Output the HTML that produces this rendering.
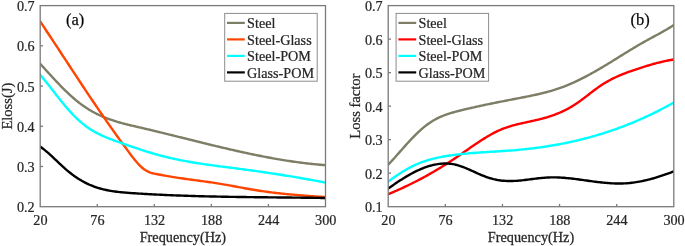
<!DOCTYPE html>
<html><head><meta charset="utf-8"><title>Chart</title>
<style>
html,body{margin:0;padding:0;background:#fff;}
body{width:685px;height:246px;overflow:hidden;}
svg{display:block;}
text{filter:grayscale(1);stroke:#262626;stroke-width:0.25px;}
.ax{stroke:#7a7a7a;stroke-width:1.3;}
.tk{font-family:"Liberation Serif",serif;font-size:15.5px;fill:#262626;}
.lb{font-family:"Liberation Serif",serif;font-size:14px;fill:#262626;}
.tg{font-family:"Liberation Serif",serif;font-size:16.5px;fill:#000;}
</style></head>
<body>
<svg width="685" height="246" viewBox="0 0 685 246">
<defs>
<clipPath id="cl"><rect x="40.20" y="5.60" width="285.30" height="201.10"/></clipPath>
<clipPath id="cr"><rect x="388.20" y="5.60" width="285.60" height="201.10"/></clipPath>
</defs>
<g clip-path="url(#cl)">
<path d="M40.00,63.52 L41.50,65.20 L43.01,66.87 L44.51,68.55 L46.01,70.21 L47.52,71.87 L49.02,73.53 L50.52,75.17 L52.03,76.80 L53.53,78.43 L55.03,80.03 L56.53,81.63 L58.04,83.20 L59.54,84.76 L61.04,86.30 L62.55,87.82 L64.05,89.32 L65.55,90.79 L67.06,92.23 L68.56,93.65 L70.06,95.05 L71.57,96.41 L73.07,97.74 L74.57,99.03 L76.08,100.30 L77.58,101.53 L79.08,102.72 L80.59,103.87 L82.09,104.98 L83.59,106.05 L85.09,107.08 L86.60,108.08 L88.10,109.03 L89.60,109.95 L91.11,110.84 L92.61,111.69 L94.11,112.51 L95.62,113.30 L97.12,114.06 L98.62,114.78 L100.13,115.48 L101.63,116.16 L103.13,116.80 L104.64,117.42 L106.14,118.02 L107.64,118.60 L109.15,119.15 L110.65,119.68 L112.15,120.19 L113.65,120.69 L115.16,121.17 L116.66,121.63 L118.16,122.07 L119.67,122.50 L121.17,122.92 L122.67,123.33 L124.18,123.72 L125.68,124.11 L127.18,124.48 L128.69,124.85 L130.19,125.22 L131.69,125.57 L133.20,125.93 L134.70,126.28 L136.20,126.63 L137.71,126.97 L139.21,127.32 L140.71,127.67 L142.21,128.02 L143.72,128.37 L145.22,128.72 L146.72,129.08 L148.23,129.43 L149.73,129.79 L151.23,130.15 L152.74,130.51 L154.24,130.87 L155.74,131.24 L157.25,131.60 L158.75,131.97 L160.25,132.33 L161.76,132.70 L163.26,133.07 L164.76,133.44 L166.27,133.81 L167.77,134.18 L169.27,134.55 L170.77,134.92 L172.28,135.29 L173.78,135.66 L175.28,136.04 L176.79,136.41 L178.29,136.79 L179.79,137.16 L181.30,137.53 L182.80,137.91 L184.30,138.28 L185.81,138.66 L187.31,139.03 L188.81,139.40 L190.32,139.78 L191.82,140.15 L193.32,140.53 L194.83,140.90 L196.33,141.27 L197.83,141.64 L199.33,142.02 L200.84,142.39 L202.34,142.76 L203.84,143.13 L205.35,143.50 L206.85,143.86 L208.35,144.23 L209.86,144.60 L211.36,144.96 L212.86,145.33 L214.37,145.69 L215.87,146.05 L217.37,146.41 L218.88,146.77 L220.38,147.13 L221.88,147.48 L223.39,147.84 L224.89,148.19 L226.39,148.54 L227.89,148.89 L229.40,149.24 L230.90,149.59 L232.40,149.93 L233.91,150.28 L235.41,150.62 L236.91,150.96 L238.42,151.29 L239.92,151.63 L241.42,151.96 L242.93,152.29 L244.43,152.62 L245.93,152.94 L247.44,153.26 L248.94,153.58 L250.44,153.90 L251.95,154.22 L253.45,154.53 L254.95,154.84 L256.45,155.14 L257.96,155.45 L259.46,155.75 L260.96,156.05 L262.47,156.34 L263.97,156.63 L265.47,156.92 L266.98,157.21 L268.48,157.49 L269.98,157.77 L271.49,158.04 L272.99,158.31 L274.49,158.58 L276.00,158.85 L277.50,159.11 L279.00,159.36 L280.51,159.62 L282.01,159.87 L283.51,160.11 L285.01,160.35 L286.52,160.59 L288.02,160.83 L289.52,161.05 L291.03,161.28 L292.53,161.50 L294.03,161.72 L295.54,161.93 L297.04,162.14 L298.54,162.34 L300.05,162.54 L301.55,162.73 L303.05,162.92 L304.56,163.11 L306.06,163.29 L307.56,163.46 L309.07,163.63 L310.57,163.80 L312.07,163.96 L313.57,164.11 L315.08,164.26 L316.58,164.41 L318.08,164.55 L319.59,164.68 L321.09,164.81 L322.59,164.93 L324.10,165.05 L325.60,165.16" fill="none" stroke="#7e7e66" stroke-width="2.40" stroke-linejoin="round" stroke-linecap="round"/>
<path d="M40.00,21.21 L41.50,23.45 L43.01,25.70 L44.51,27.96 L46.01,30.22 L47.52,32.49 L49.02,34.76 L50.52,37.03 L52.03,39.31 L53.53,41.59 L55.03,43.87 L56.53,46.16 L58.04,48.44 L59.54,50.73 L61.04,53.02 L62.55,55.31 L64.05,57.60 L65.55,59.90 L67.06,62.19 L68.56,64.48 L70.06,66.77 L71.57,69.06 L73.07,71.34 L74.57,73.63 L76.08,75.91 L77.58,78.19 L79.08,80.47 L80.59,82.74 L82.09,85.02 L83.59,87.28 L85.09,89.54 L86.60,91.80 L88.10,94.06 L89.60,96.30 L91.11,98.55 L92.61,100.78 L94.11,103.01 L95.62,105.23 L97.12,107.45 L98.62,109.66 L100.13,111.86 L101.63,114.05 L103.13,116.23 L104.64,118.41 L106.14,120.58 L107.64,122.73 L109.15,124.88 L110.65,127.02 L112.15,129.14 L113.65,131.26 L115.16,133.36 L116.66,135.45 L118.16,137.53 L119.67,139.60 L121.17,141.66 L122.67,143.71 L124.18,145.75 L125.68,147.81 L127.18,149.86 L128.69,151.91 L130.19,153.94 L131.69,155.93 L133.20,157.87 L134.70,159.76 L136.20,161.57 L137.71,163.29 L139.21,164.90 L140.71,166.40 L142.21,167.76 L143.72,168.97 L145.22,170.02 L146.72,170.91 L148.23,171.66 L149.73,172.28 L151.23,172.80 L152.74,173.24 L154.24,173.60 L155.74,173.92 L157.25,174.21 L158.75,174.49 L160.25,174.76 L161.76,175.04 L163.26,175.31 L164.76,175.58 L166.27,175.85 L167.77,176.12 L169.27,176.38 L170.77,176.64 L172.28,176.90 L173.78,177.14 L175.28,177.39 L176.79,177.62 L178.29,177.86 L179.79,178.08 L181.30,178.30 L182.80,178.52 L184.30,178.74 L185.81,178.95 L187.31,179.16 L188.81,179.36 L190.32,179.56 L191.82,179.77 L193.32,179.97 L194.83,180.17 L196.33,180.36 L197.83,180.56 L199.33,180.76 L200.84,180.96 L202.34,181.16 L203.84,181.37 L205.35,181.57 L206.85,181.78 L208.35,181.99 L209.86,182.20 L211.36,182.42 L212.86,182.64 L214.37,182.86 L215.87,183.09 L217.37,183.33 L218.88,183.57 L220.38,183.82 L221.88,184.07 L223.39,184.33 L224.89,184.59 L226.39,184.86 L227.89,185.13 L229.40,185.40 L230.90,185.68 L232.40,185.96 L233.91,186.24 L235.41,186.52 L236.91,186.80 L238.42,187.09 L239.92,187.37 L241.42,187.65 L242.93,187.93 L244.43,188.20 L245.93,188.48 L247.44,188.75 L248.94,189.02 L250.44,189.28 L251.95,189.54 L253.45,189.79 L254.95,190.04 L256.45,190.28 L257.96,190.51 L259.46,190.74 L260.96,190.97 L262.47,191.18 L263.97,191.40 L265.47,191.61 L266.98,191.81 L268.48,192.01 L269.98,192.21 L271.49,192.40 L272.99,192.58 L274.49,192.76 L276.00,192.94 L277.50,193.11 L279.00,193.28 L280.51,193.44 L282.01,193.61 L283.51,193.76 L285.01,193.92 L286.52,194.07 L288.02,194.21 L289.52,194.36 L291.03,194.50 L292.53,194.63 L294.03,194.77 L295.54,194.90 L297.04,195.03 L298.54,195.15 L300.05,195.28 L301.55,195.40 L303.05,195.52 L304.56,195.63 L306.06,195.75 L307.56,195.86 L309.07,195.97 L310.57,196.08 L312.07,196.19 L313.57,196.29 L315.08,196.40 L316.58,196.50 L318.08,196.60 L319.59,196.70 L321.09,196.80 L322.59,196.90 L324.10,197.00 L325.60,197.10" fill="none" stroke="#ff4500" stroke-width="2.40" stroke-linejoin="round" stroke-linecap="round"/>
<path d="M40.00,74.58 L41.50,76.32 L43.01,78.10 L44.51,79.92 L46.01,81.77 L47.52,83.65 L49.02,85.55 L50.52,87.47 L52.03,89.40 L53.53,91.34 L55.03,93.27 L56.53,95.20 L58.04,97.13 L59.54,99.03 L61.04,100.92 L62.55,102.78 L64.05,104.61 L65.55,106.40 L67.06,108.15 L68.56,109.87 L70.06,111.54 L71.57,113.17 L73.07,114.75 L74.57,116.28 L76.08,117.77 L77.58,119.20 L79.08,120.58 L80.59,121.91 L82.09,123.18 L83.59,124.39 L85.09,125.55 L86.60,126.66 L88.10,127.72 L89.60,128.73 L91.11,129.70 L92.61,130.62 L94.11,131.51 L95.62,132.35 L97.12,133.16 L98.62,133.94 L100.13,134.68 L101.63,135.39 L103.13,136.08 L104.64,136.74 L106.14,137.38 L107.64,137.99 L109.15,138.59 L110.65,139.17 L112.15,139.74 L113.65,140.29 L115.16,140.84 L116.66,141.37 L118.16,141.91 L119.67,142.43 L121.17,142.96 L122.67,143.48 L124.18,144.01 L125.68,144.53 L127.18,145.06 L128.69,145.58 L130.19,146.09 L131.69,146.61 L133.20,147.12 L134.70,147.63 L136.20,148.14 L137.71,148.64 L139.21,149.14 L140.71,149.63 L142.21,150.12 L143.72,150.60 L145.22,151.08 L146.72,151.56 L148.23,152.02 L149.73,152.48 L151.23,152.94 L152.74,153.38 L154.24,153.82 L155.74,154.25 L157.25,154.67 L158.75,155.09 L160.25,155.49 L161.76,155.89 L163.26,156.28 L164.76,156.66 L166.27,157.03 L167.77,157.39 L169.27,157.74 L170.77,158.09 L172.28,158.43 L173.78,158.76 L175.28,159.08 L176.79,159.40 L178.29,159.71 L179.79,160.01 L181.30,160.31 L182.80,160.60 L184.30,160.89 L185.81,161.16 L187.31,161.44 L188.81,161.70 L190.32,161.97 L191.82,162.22 L193.32,162.47 L194.83,162.72 L196.33,162.96 L197.83,163.20 L199.33,163.44 L200.84,163.67 L202.34,163.89 L203.84,164.11 L205.35,164.33 L206.85,164.55 L208.35,164.76 L209.86,164.97 L211.36,165.18 L212.86,165.39 L214.37,165.59 L215.87,165.79 L217.37,165.99 L218.88,166.19 L220.38,166.38 L221.88,166.58 L223.39,166.77 L224.89,166.97 L226.39,167.16 L227.89,167.35 L229.40,167.54 L230.90,167.73 L232.40,167.93 L233.91,168.12 L235.41,168.31 L236.91,168.51 L238.42,168.70 L239.92,168.90 L241.42,169.09 L242.93,169.29 L244.43,169.49 L245.93,169.69 L247.44,169.90 L248.94,170.10 L250.44,170.31 L251.95,170.51 L253.45,170.72 L254.95,170.93 L256.45,171.14 L257.96,171.36 L259.46,171.57 L260.96,171.79 L262.47,172.00 L263.97,172.22 L265.47,172.44 L266.98,172.67 L268.48,172.89 L269.98,173.11 L271.49,173.34 L272.99,173.57 L274.49,173.80 L276.00,174.03 L277.50,174.26 L279.00,174.50 L280.51,174.73 L282.01,174.97 L283.51,175.21 L285.01,175.45 L286.52,175.69 L288.02,175.94 L289.52,176.18 L291.03,176.43 L292.53,176.68 L294.03,176.93 L295.54,177.18 L297.04,177.44 L298.54,177.69 L300.05,177.95 L301.55,178.21 L303.05,178.47 L304.56,178.73 L306.06,179.00 L307.56,179.26 L309.07,179.53 L310.57,179.80 L312.07,180.07 L313.57,180.34 L315.08,180.62 L316.58,180.90 L318.08,181.17 L319.59,181.46 L321.09,181.74 L322.59,182.02 L324.10,182.31 L325.60,182.60" fill="none" stroke="#00ffff" stroke-width="2.40" stroke-linejoin="round" stroke-linecap="round"/>
<path d="M40.00,146.49 L41.50,147.54 L43.01,148.67 L44.51,149.85 L46.01,151.08 L47.52,152.37 L49.02,153.69 L50.52,155.05 L52.03,156.44 L53.53,157.84 L55.03,159.26 L56.53,160.69 L58.04,162.12 L59.54,163.54 L61.04,164.95 L62.55,166.34 L64.05,167.71 L65.55,169.04 L67.06,170.33 L68.56,171.58 L70.06,172.79 L71.57,173.96 L73.07,175.09 L74.57,176.17 L76.08,177.21 L77.58,178.21 L79.08,179.17 L80.59,180.09 L82.09,180.97 L83.59,181.80 L85.09,182.59 L86.60,183.35 L88.10,184.06 L89.60,184.74 L91.11,185.37 L92.61,185.97 L94.11,186.54 L95.62,187.08 L97.12,187.58 L98.62,188.05 L100.13,188.49 L101.63,188.90 L103.13,189.29 L104.64,189.65 L106.14,189.98 L107.64,190.29 L109.15,190.58 L110.65,190.85 L112.15,191.10 L113.65,191.33 L115.16,191.54 L116.66,191.74 L118.16,191.92 L119.67,192.09 L121.17,192.24 L122.67,192.39 L124.18,192.52 L125.68,192.65 L127.18,192.76 L128.69,192.88 L130.19,192.98 L131.69,193.09 L133.20,193.19 L134.70,193.29 L136.20,193.39 L137.71,193.48 L139.21,193.58 L140.71,193.67 L142.21,193.76 L143.72,193.85 L145.22,193.94 L146.72,194.03 L148.23,194.11 L149.73,194.20 L151.23,194.28 L152.74,194.36 L154.24,194.44 L155.74,194.51 L157.25,194.59 L158.75,194.66 L160.25,194.73 L161.76,194.81 L163.26,194.88 L164.76,194.94 L166.27,195.01 L167.77,195.08 L169.27,195.14 L170.77,195.20 L172.28,195.27 L173.78,195.33 L175.28,195.39 L176.79,195.44 L178.29,195.50 L179.79,195.56 L181.30,195.61 L182.80,195.66 L184.30,195.72 L185.81,195.77 L187.31,195.82 L188.81,195.86 L190.32,195.91 L191.82,195.96 L193.32,196.00 L194.83,196.05 L196.33,196.09 L197.83,196.13 L199.33,196.18 L200.84,196.22 L202.34,196.26 L203.84,196.29 L205.35,196.33 L206.85,196.37 L208.35,196.40 L209.86,196.44 L211.36,196.47 L212.86,196.51 L214.37,196.54 L215.87,196.57 L217.37,196.60 L218.88,196.63 L220.38,196.66 L221.88,196.69 L223.39,196.72 L224.89,196.75 L226.39,196.77 L227.89,196.80 L229.40,196.83 L230.90,196.85 L232.40,196.88 L233.91,196.90 L235.41,196.92 L236.91,196.95 L238.42,196.97 L239.92,196.99 L241.42,197.01 L242.93,197.03 L244.43,197.05 L245.93,197.07 L247.44,197.09 L248.94,197.11 L250.44,197.13 L251.95,197.15 L253.45,197.17 L254.95,197.19 L256.45,197.20 L257.96,197.22 L259.46,197.24 L260.96,197.25 L262.47,197.27 L263.97,197.29 L265.47,197.30 L266.98,197.32 L268.48,197.34 L269.98,197.35 L271.49,197.37 L272.99,197.38 L274.49,197.40 L276.00,197.41 L277.50,197.43 L279.00,197.44 L280.51,197.46 L282.01,197.48 L283.51,197.49 L285.01,197.51 L286.52,197.52 L288.02,197.54 L289.52,197.55 L291.03,197.57 L292.53,197.59 L294.03,197.60 L295.54,197.62 L297.04,197.63 L298.54,197.65 L300.05,197.67 L301.55,197.69 L303.05,197.70 L304.56,197.72 L306.06,197.74 L307.56,197.76 L309.07,197.78 L310.57,197.80 L312.07,197.82 L313.57,197.84 L315.08,197.86 L316.58,197.88 L318.08,197.90 L319.59,197.92 L321.09,197.94 L322.59,197.97 L324.10,197.99 L325.60,198.01" fill="none" stroke="#000000" stroke-width="2.40" stroke-linejoin="round" stroke-linecap="round"/>
</g>
<text transform="translate(40.40,225.00) scale(0.915,1)" class="tk" text-anchor="middle">20</text>
<line x1="97.26" y1="206.70" x2="97.26" y2="203.90" class="ax"/>
<text transform="translate(97.46,225.00) scale(0.915,1)" class="tk" text-anchor="middle">76</text>
<line x1="154.32" y1="206.70" x2="154.32" y2="203.90" class="ax"/>
<text transform="translate(154.52,225.00) scale(0.915,1)" class="tk" text-anchor="middle">132</text>
<line x1="211.38" y1="206.70" x2="211.38" y2="203.90" class="ax"/>
<text transform="translate(211.58,225.00) scale(0.915,1)" class="tk" text-anchor="middle">188</text>
<line x1="268.44" y1="206.70" x2="268.44" y2="203.90" class="ax"/>
<text transform="translate(268.64,225.00) scale(0.915,1)" class="tk" text-anchor="middle">244</text>
<text transform="translate(325.70,225.00) scale(0.915,1)" class="tk" text-anchor="middle">300</text>
<text transform="translate(34.60,212.30) scale(0.915,1)" class="tk" text-anchor="end">0.2</text>
<line x1="40.20" y1="166.48" x2="43.00" y2="166.48" class="ax"/>
<text transform="translate(34.60,172.08) scale(0.915,1)" class="tk" text-anchor="end">0.3</text>
<line x1="40.20" y1="126.26" x2="43.00" y2="126.26" class="ax"/>
<text transform="translate(34.60,131.86) scale(0.915,1)" class="tk" text-anchor="end">0.4</text>
<line x1="40.20" y1="86.04" x2="43.00" y2="86.04" class="ax"/>
<text transform="translate(34.60,91.64) scale(0.915,1)" class="tk" text-anchor="end">0.5</text>
<line x1="40.20" y1="45.82" x2="43.00" y2="45.82" class="ax"/>
<text transform="translate(34.60,51.42) scale(0.915,1)" class="tk" text-anchor="end">0.6</text>
<text transform="translate(34.60,11.20) scale(0.915,1)" class="tk" text-anchor="end">0.7</text>
<rect x="40.20" y="5.60" width="285.30" height="201.10" class="ax" fill="none"/>
<text transform="translate(182.85,241.60) scale(1.020,1)" class="lb" text-anchor="middle">Frequency(Hz)</text>
<text transform="translate(12.10,106.15) rotate(-90) scale(1.040,1)" class="lb" text-anchor="middle">Eloss(J)</text>
<text transform="translate(66.00,24.60) scale(1.000,1)" class="tg">(a)</text>
<rect x="224.70" y="13.40" width="92.5" height="67.8" fill="#fff" stroke="#8c8c8c" stroke-width="1"/>
<line x1="227.00" y1="22.90" x2="244.80" y2="22.90" stroke="#7e7e66" stroke-width="2.2"/>
<text transform="translate(247.10,28.20) scale(0.915,1)" class="tk">Steel</text>
<line x1="227.00" y1="39.40" x2="244.80" y2="39.40" stroke="#ff4500" stroke-width="2.2"/>
<text transform="translate(247.10,44.70) scale(0.915,1)" class="tk">Steel-Glass</text>
<line x1="227.00" y1="55.90" x2="244.80" y2="55.90" stroke="#00ffff" stroke-width="2.2"/>
<text transform="translate(247.10,61.20) scale(0.915,1)" class="tk">Steel-POM</text>
<line x1="227.00" y1="72.40" x2="244.80" y2="72.40" stroke="#000000" stroke-width="2.2"/>
<text transform="translate(247.10,77.70) scale(0.915,1)" class="tk">Glass-POM</text>
<g clip-path="url(#cr)">
<path d="M388.20,164.71 L389.70,163.11 L391.21,161.49 L392.71,159.85 L394.21,158.18 L395.72,156.51 L397.22,154.82 L398.72,153.12 L400.23,151.42 L401.73,149.72 L403.23,148.03 L404.73,146.34 L406.24,144.67 L407.74,143.02 L409.24,141.38 L410.75,139.77 L412.25,138.19 L413.75,136.64 L415.26,135.12 L416.76,133.63 L418.26,132.19 L419.77,130.79 L421.27,129.43 L422.77,128.12 L424.28,126.87 L425.78,125.67 L427.28,124.53 L428.79,123.45 L430.29,122.43 L431.79,121.46 L433.29,120.56 L434.80,119.70 L436.30,118.89 L437.80,118.13 L439.31,117.41 L440.81,116.73 L442.31,116.10 L443.82,115.50 L445.32,114.93 L446.82,114.39 L448.33,113.88 L449.83,113.40 L451.33,112.94 L452.84,112.50 L454.34,112.07 L455.84,111.67 L457.35,111.27 L458.85,110.88 L460.35,110.51 L461.85,110.13 L463.36,109.76 L464.86,109.40 L466.36,109.04 L467.87,108.68 L469.37,108.33 L470.87,107.98 L472.38,107.64 L473.88,107.30 L475.38,106.96 L476.89,106.63 L478.39,106.30 L479.89,105.97 L481.40,105.65 L482.90,105.32 L484.40,105.01 L485.91,104.69 L487.41,104.38 L488.91,104.07 L490.41,103.76 L491.92,103.45 L493.42,103.15 L494.92,102.84 L496.43,102.54 L497.93,102.24 L499.43,101.94 L500.94,101.65 L502.44,101.35 L503.94,101.06 L505.45,100.76 L506.95,100.47 L508.45,100.18 L509.96,99.88 L511.46,99.59 L512.96,99.30 L514.47,99.01 L515.97,98.72 L517.47,98.43 L518.97,98.14 L520.48,97.85 L521.98,97.55 L523.48,97.26 L524.99,96.96 L526.49,96.67 L527.99,96.36 L529.50,96.06 L531.00,95.75 L532.50,95.44 L534.01,95.12 L535.51,94.79 L537.01,94.46 L538.52,94.11 L540.02,93.76 L541.52,93.41 L543.03,93.04 L544.53,92.66 L546.03,92.27 L547.53,91.87 L549.04,91.46 L550.54,91.03 L552.04,90.60 L553.55,90.14 L555.05,89.68 L556.55,89.19 L558.06,88.69 L559.56,88.18 L561.06,87.65 L562.57,87.10 L564.07,86.53 L565.57,85.94 L567.08,85.34 L568.58,84.72 L570.08,84.08 L571.59,83.43 L573.09,82.76 L574.59,82.08 L576.09,81.38 L577.60,80.66 L579.10,79.94 L580.60,79.20 L582.11,78.44 L583.61,77.67 L585.11,76.89 L586.62,76.10 L588.12,75.30 L589.62,74.48 L591.13,73.66 L592.63,72.82 L594.13,71.98 L595.64,71.12 L597.14,70.26 L598.64,69.39 L600.15,68.50 L601.65,67.62 L603.15,66.72 L604.65,65.82 L606.16,64.91 L607.66,63.99 L609.16,63.08 L610.67,62.15 L612.17,61.23 L613.67,60.30 L615.18,59.37 L616.68,58.43 L618.18,57.50 L619.69,56.57 L621.19,55.63 L622.69,54.70 L624.20,53.77 L625.70,52.84 L627.20,51.92 L628.71,50.99 L630.21,50.08 L631.71,49.16 L633.21,48.26 L634.72,47.35 L636.22,46.46 L637.72,45.57 L639.23,44.69 L640.73,43.82 L642.23,42.96 L643.74,42.11 L645.24,41.26 L646.74,40.43 L648.25,39.61 L649.75,38.79 L651.25,37.98 L652.76,37.17 L654.26,36.37 L655.76,35.56 L657.27,34.75 L658.77,33.93 L660.27,33.10 L661.77,32.27 L663.28,31.42 L664.78,30.56 L666.28,29.69 L667.79,28.80 L669.29,27.89 L670.79,26.96 L672.30,26.00 L673.80,25.02" fill="none" stroke="#7e7e66" stroke-width="2.40" stroke-linejoin="round" stroke-linecap="round"/>
<path d="M388.20,194.20 L389.70,193.58 L391.21,192.95 L392.71,192.31 L394.21,191.67 L395.72,191.01 L397.22,190.35 L398.72,189.68 L400.23,189.01 L401.73,188.32 L403.23,187.63 L404.73,186.92 L406.24,186.21 L407.74,185.49 L409.24,184.76 L410.75,184.03 L412.25,183.28 L413.75,182.53 L415.26,181.76 L416.76,180.99 L418.26,180.21 L419.77,179.42 L421.27,178.63 L422.77,177.82 L424.28,177.00 L425.78,176.18 L427.28,175.34 L428.79,174.50 L430.29,173.65 L431.79,172.79 L433.29,171.92 L434.80,171.04 L436.30,170.15 L437.80,169.26 L439.31,168.35 L440.81,167.43 L442.31,166.51 L443.82,165.57 L445.32,164.63 L446.82,163.68 L448.33,162.71 L449.83,161.74 L451.33,160.76 L452.84,159.77 L454.34,158.77 L455.84,157.76 L457.35,156.74 L458.85,155.71 L460.35,154.67 L461.85,153.63 L463.36,152.58 L464.86,151.54 L466.36,150.49 L467.87,149.44 L469.37,148.39 L470.87,147.35 L472.38,146.31 L473.88,145.28 L475.38,144.26 L476.89,143.24 L478.39,142.24 L479.89,141.25 L481.40,140.28 L482.90,139.32 L484.40,138.37 L485.91,137.45 L487.41,136.55 L488.91,135.67 L490.41,134.81 L491.92,133.98 L493.42,133.17 L494.92,132.39 L496.43,131.64 L497.93,130.93 L499.43,130.24 L500.94,129.59 L502.44,128.97 L503.94,128.39 L505.45,127.84 L506.95,127.31 L508.45,126.81 L509.96,126.34 L511.46,125.89 L512.96,125.46 L514.47,125.05 L515.97,124.66 L517.47,124.28 L518.97,123.92 L520.48,123.57 L521.98,123.23 L523.48,122.89 L524.99,122.56 L526.49,122.24 L527.99,121.92 L529.50,121.59 L531.00,121.27 L532.50,120.94 L534.01,120.61 L535.51,120.27 L537.01,119.92 L538.52,119.56 L540.02,119.18 L541.52,118.80 L543.03,118.40 L544.53,117.98 L546.03,117.55 L547.53,117.10 L549.04,116.63 L550.54,116.15 L552.04,115.64 L553.55,115.11 L555.05,114.56 L556.55,113.98 L558.06,113.38 L559.56,112.75 L561.06,112.10 L562.57,111.41 L564.07,110.70 L565.57,109.96 L567.08,109.19 L568.58,108.38 L570.08,107.54 L571.59,106.66 L573.09,105.75 L574.59,104.81 L576.09,103.82 L577.60,102.80 L579.10,101.74 L580.60,100.65 L582.11,99.54 L583.61,98.41 L585.11,97.26 L586.62,96.10 L588.12,94.94 L589.62,93.78 L591.13,92.62 L592.63,91.46 L594.13,90.33 L595.64,89.21 L597.14,88.11 L598.64,87.04 L600.15,86.00 L601.65,85.00 L603.15,84.03 L604.65,83.10 L606.16,82.21 L607.66,81.34 L609.16,80.51 L610.67,79.71 L612.17,78.93 L613.67,78.19 L615.18,77.46 L616.68,76.77 L618.18,76.09 L619.69,75.44 L621.19,74.81 L622.69,74.19 L624.20,73.60 L625.70,73.02 L627.20,72.45 L628.71,71.90 L630.21,71.36 L631.71,70.83 L633.21,70.31 L634.72,69.80 L636.22,69.30 L637.72,68.80 L639.23,68.30 L640.73,67.81 L642.23,67.33 L643.74,66.86 L645.24,66.39 L646.74,65.93 L648.25,65.48 L649.75,65.03 L651.25,64.60 L652.76,64.17 L654.26,63.76 L655.76,63.35 L657.27,62.96 L658.77,62.58 L660.27,62.21 L661.77,61.85 L663.28,61.51 L664.78,61.17 L666.28,60.86 L667.79,60.55 L669.29,60.27 L670.79,59.99 L672.30,59.73 L673.80,59.49" fill="none" stroke="#ff0000" stroke-width="2.40" stroke-linejoin="round" stroke-linecap="round"/>
<path d="M388.20,181.62 L389.70,180.49 L391.21,179.39 L392.71,178.30 L394.21,177.24 L395.72,176.20 L397.22,175.18 L398.72,174.19 L400.23,173.22 L401.73,172.27 L403.23,171.35 L404.73,170.45 L406.24,169.58 L407.74,168.73 L409.24,167.92 L410.75,167.13 L412.25,166.36 L413.75,165.63 L415.26,164.93 L416.76,164.25 L418.26,163.61 L419.77,163.00 L421.27,162.42 L422.77,161.86 L424.28,161.34 L425.78,160.84 L427.28,160.36 L428.79,159.91 L430.29,159.49 L431.79,159.08 L433.29,158.70 L434.80,158.34 L436.30,157.99 L437.80,157.67 L439.31,157.35 L440.81,157.06 L442.31,156.78 L443.82,156.51 L445.32,156.25 L446.82,156.00 L448.33,155.77 L449.83,155.54 L451.33,155.32 L452.84,155.11 L454.34,154.91 L455.84,154.72 L457.35,154.53 L458.85,154.36 L460.35,154.19 L461.85,154.02 L463.36,153.87 L464.86,153.72 L466.36,153.57 L467.87,153.43 L469.37,153.30 L470.87,153.17 L472.38,153.05 L473.88,152.93 L475.38,152.82 L476.89,152.70 L478.39,152.60 L479.89,152.49 L481.40,152.39 L482.90,152.29 L484.40,152.19 L485.91,152.10 L487.41,152.00 L488.91,151.91 L490.41,151.82 L491.92,151.73 L493.42,151.64 L494.92,151.54 L496.43,151.45 L497.93,151.36 L499.43,151.27 L500.94,151.17 L502.44,151.07 L503.94,150.98 L505.45,150.88 L506.95,150.77 L508.45,150.67 L509.96,150.56 L511.46,150.44 L512.96,150.33 L514.47,150.20 L515.97,150.08 L517.47,149.95 L518.97,149.81 L520.48,149.67 L521.98,149.53 L523.48,149.38 L524.99,149.22 L526.49,149.06 L527.99,148.90 L529.50,148.73 L531.00,148.55 L532.50,148.37 L534.01,148.19 L535.51,148.00 L537.01,147.80 L538.52,147.60 L540.02,147.39 L541.52,147.18 L543.03,146.96 L544.53,146.74 L546.03,146.51 L547.53,146.28 L549.04,146.04 L550.54,145.80 L552.04,145.54 L553.55,145.29 L555.05,145.03 L556.55,144.76 L558.06,144.48 L559.56,144.20 L561.06,143.92 L562.57,143.63 L564.07,143.33 L565.57,143.03 L567.08,142.72 L568.58,142.40 L570.08,142.08 L571.59,141.75 L573.09,141.41 L574.59,141.07 L576.09,140.73 L577.60,140.37 L579.10,140.01 L580.60,139.65 L582.11,139.27 L583.61,138.89 L585.11,138.51 L586.62,138.11 L588.12,137.71 L589.62,137.31 L591.13,136.89 L592.63,136.47 L594.13,136.05 L595.64,135.61 L597.14,135.17 L598.64,134.72 L600.15,134.27 L601.65,133.81 L603.15,133.34 L604.65,132.86 L606.16,132.38 L607.66,131.89 L609.16,131.39 L610.67,130.89 L612.17,130.37 L613.67,129.85 L615.18,129.33 L616.68,128.79 L618.18,128.25 L619.69,127.70 L621.19,127.14 L622.69,126.58 L624.20,126.01 L625.70,125.42 L627.20,124.84 L628.71,124.24 L630.21,123.64 L631.71,123.02 L633.21,122.40 L634.72,121.78 L636.22,121.14 L637.72,120.50 L639.23,119.85 L640.73,119.19 L642.23,118.52 L643.74,117.84 L645.24,117.16 L646.74,116.46 L648.25,115.76 L649.75,115.05 L651.25,114.33 L652.76,113.61 L654.26,112.87 L655.76,112.13 L657.27,111.37 L658.77,110.61 L660.27,109.84 L661.77,109.06 L663.28,108.28 L664.78,107.48 L666.28,106.67 L667.79,105.86 L669.29,105.04 L670.79,104.20 L672.30,103.36 L673.80,102.51" fill="none" stroke="#00ffff" stroke-width="2.40" stroke-linejoin="round" stroke-linecap="round"/>
<path d="M388.20,188.64 L389.70,187.56 L391.21,186.49 L392.71,185.44 L394.21,184.39 L395.72,183.36 L397.22,182.34 L398.72,181.34 L400.23,180.36 L401.73,179.39 L403.23,178.45 L404.73,177.52 L406.24,176.61 L407.74,175.73 L409.24,174.86 L410.75,174.02 L412.25,173.21 L413.75,172.42 L415.26,171.66 L416.76,170.92 L418.26,170.22 L419.77,169.54 L421.27,168.90 L422.77,168.28 L424.28,167.70 L425.78,167.15 L427.28,166.64 L428.79,166.16 L430.29,165.72 L431.79,165.32 L433.29,164.95 L434.80,164.63 L436.30,164.34 L437.80,164.10 L439.31,163.90 L440.81,163.74 L442.31,163.62 L443.82,163.56 L445.32,163.53 L446.82,163.56 L448.33,163.63 L449.83,163.76 L451.33,163.93 L452.84,164.16 L454.34,164.44 L455.84,164.77 L457.35,165.15 L458.85,165.59 L460.35,166.07 L461.85,166.59 L463.36,167.16 L464.86,167.75 L466.36,168.37 L467.87,169.01 L469.37,169.67 L470.87,170.35 L472.38,171.03 L473.88,171.71 L475.38,172.40 L476.89,173.08 L478.39,173.74 L479.89,174.39 L481.40,175.02 L482.90,175.63 L484.40,176.21 L485.91,176.76 L487.41,177.29 L488.91,177.79 L490.41,178.26 L491.92,178.69 L493.42,179.09 L494.92,179.45 L496.43,179.78 L497.93,180.06 L499.43,180.31 L500.94,180.52 L502.44,180.69 L503.94,180.82 L505.45,180.92 L506.95,180.99 L508.45,181.03 L509.96,181.04 L511.46,181.03 L512.96,180.99 L514.47,180.92 L515.97,180.84 L517.47,180.73 L518.97,180.61 L520.48,180.47 L521.98,180.32 L523.48,180.16 L524.99,179.98 L526.49,179.80 L527.99,179.62 L529.50,179.43 L531.00,179.23 L532.50,179.04 L534.01,178.85 L535.51,178.66 L537.01,178.47 L538.52,178.30 L540.02,178.13 L541.52,177.97 L543.03,177.83 L544.53,177.70 L546.03,177.59 L547.53,177.50 L549.04,177.43 L550.54,177.38 L552.04,177.35 L553.55,177.34 L555.05,177.35 L556.55,177.39 L558.06,177.44 L559.56,177.50 L561.06,177.59 L562.57,177.69 L564.07,177.80 L565.57,177.93 L567.08,178.07 L568.58,178.22 L570.08,178.38 L571.59,178.55 L573.09,178.73 L574.59,178.92 L576.09,179.11 L577.60,179.31 L579.10,179.51 L580.60,179.72 L582.11,179.93 L583.61,180.14 L585.11,180.35 L586.62,180.56 L588.12,180.77 L589.62,180.98 L591.13,181.18 L592.63,181.38 L594.13,181.58 L595.64,181.77 L597.14,181.96 L598.64,182.14 L600.15,182.31 L601.65,182.48 L603.15,182.63 L604.65,182.78 L606.16,182.91 L607.66,183.03 L609.16,183.15 L610.67,183.24 L612.17,183.33 L613.67,183.40 L615.18,183.45 L616.68,183.49 L618.18,183.51 L619.69,183.51 L621.19,183.50 L622.69,183.46 L624.20,183.41 L625.70,183.33 L627.20,183.23 L628.71,183.11 L630.21,182.97 L631.71,182.80 L633.21,182.62 L634.72,182.41 L636.22,182.18 L637.72,181.93 L639.23,181.67 L640.73,181.38 L642.23,181.08 L643.74,180.75 L645.24,180.42 L646.74,180.06 L648.25,179.69 L649.75,179.30 L651.25,178.90 L652.76,178.48 L654.26,178.05 L655.76,177.60 L657.27,177.15 L658.77,176.68 L660.27,176.19 L661.77,175.70 L663.28,175.20 L664.78,174.68 L666.28,174.15 L667.79,173.62 L669.29,173.08 L670.79,172.53 L672.30,171.97 L673.80,171.40" fill="none" stroke="#000000" stroke-width="2.40" stroke-linejoin="round" stroke-linecap="round"/>
</g>
<text transform="translate(388.40,225.00) scale(0.915,1)" class="tk" text-anchor="middle">20</text>
<line x1="445.32" y1="206.70" x2="445.32" y2="203.90" class="ax"/>
<text transform="translate(445.52,225.00) scale(0.915,1)" class="tk" text-anchor="middle">76</text>
<line x1="502.44" y1="206.70" x2="502.44" y2="203.90" class="ax"/>
<text transform="translate(502.64,225.00) scale(0.915,1)" class="tk" text-anchor="middle">132</text>
<line x1="559.56" y1="206.70" x2="559.56" y2="203.90" class="ax"/>
<text transform="translate(559.76,225.00) scale(0.915,1)" class="tk" text-anchor="middle">188</text>
<line x1="616.68" y1="206.70" x2="616.68" y2="203.90" class="ax"/>
<text transform="translate(616.88,225.00) scale(0.915,1)" class="tk" text-anchor="middle">244</text>
<text transform="translate(674.00,225.00) scale(0.915,1)" class="tk" text-anchor="middle">300</text>
<text transform="translate(382.60,212.30) scale(0.915,1)" class="tk" text-anchor="end">0.1</text>
<line x1="388.20" y1="173.18" x2="391.00" y2="173.18" class="ax"/>
<text transform="translate(382.60,178.78) scale(0.915,1)" class="tk" text-anchor="end">0.2</text>
<line x1="388.20" y1="139.67" x2="391.00" y2="139.67" class="ax"/>
<text transform="translate(382.60,145.27) scale(0.915,1)" class="tk" text-anchor="end">0.3</text>
<line x1="388.20" y1="106.15" x2="391.00" y2="106.15" class="ax"/>
<text transform="translate(382.60,111.75) scale(0.915,1)" class="tk" text-anchor="end">0.4</text>
<line x1="388.20" y1="72.63" x2="391.00" y2="72.63" class="ax"/>
<text transform="translate(382.60,78.23) scale(0.915,1)" class="tk" text-anchor="end">0.5</text>
<line x1="388.20" y1="39.12" x2="391.00" y2="39.12" class="ax"/>
<text transform="translate(382.60,44.72) scale(0.915,1)" class="tk" text-anchor="end">0.6</text>
<text transform="translate(382.60,11.20) scale(0.915,1)" class="tk" text-anchor="end">0.7</text>
<rect x="388.20" y="5.60" width="285.60" height="201.10" class="ax" fill="none"/>
<text transform="translate(531.00,241.60) scale(1.020,1)" class="lb" text-anchor="middle">Frequency(Hz)</text>
<text transform="translate(360.20,106.15) rotate(-90) scale(1.040,1)" class="lb" text-anchor="middle">Loss factor</text>
<text transform="translate(630.50,24.60) scale(1.000,1)" class="tg">(b)</text>
<rect x="396.10" y="13.40" width="92.5" height="67.8" fill="#fff" stroke="#8c8c8c" stroke-width="1"/>
<line x1="398.40" y1="22.90" x2="416.20" y2="22.90" stroke="#7e7e66" stroke-width="2.2"/>
<text transform="translate(418.50,28.20) scale(0.915,1)" class="tk">Steel</text>
<line x1="398.40" y1="39.40" x2="416.20" y2="39.40" stroke="#ff0000" stroke-width="2.2"/>
<text transform="translate(418.50,44.70) scale(0.915,1)" class="tk">Steel-Glass</text>
<line x1="398.40" y1="55.90" x2="416.20" y2="55.90" stroke="#00ffff" stroke-width="2.2"/>
<text transform="translate(418.50,61.20) scale(0.915,1)" class="tk">Steel-POM</text>
<line x1="398.40" y1="72.40" x2="416.20" y2="72.40" stroke="#000000" stroke-width="2.2"/>
<text transform="translate(418.50,77.70) scale(0.915,1)" class="tk">Glass-POM</text>
</svg>
</body></html>
